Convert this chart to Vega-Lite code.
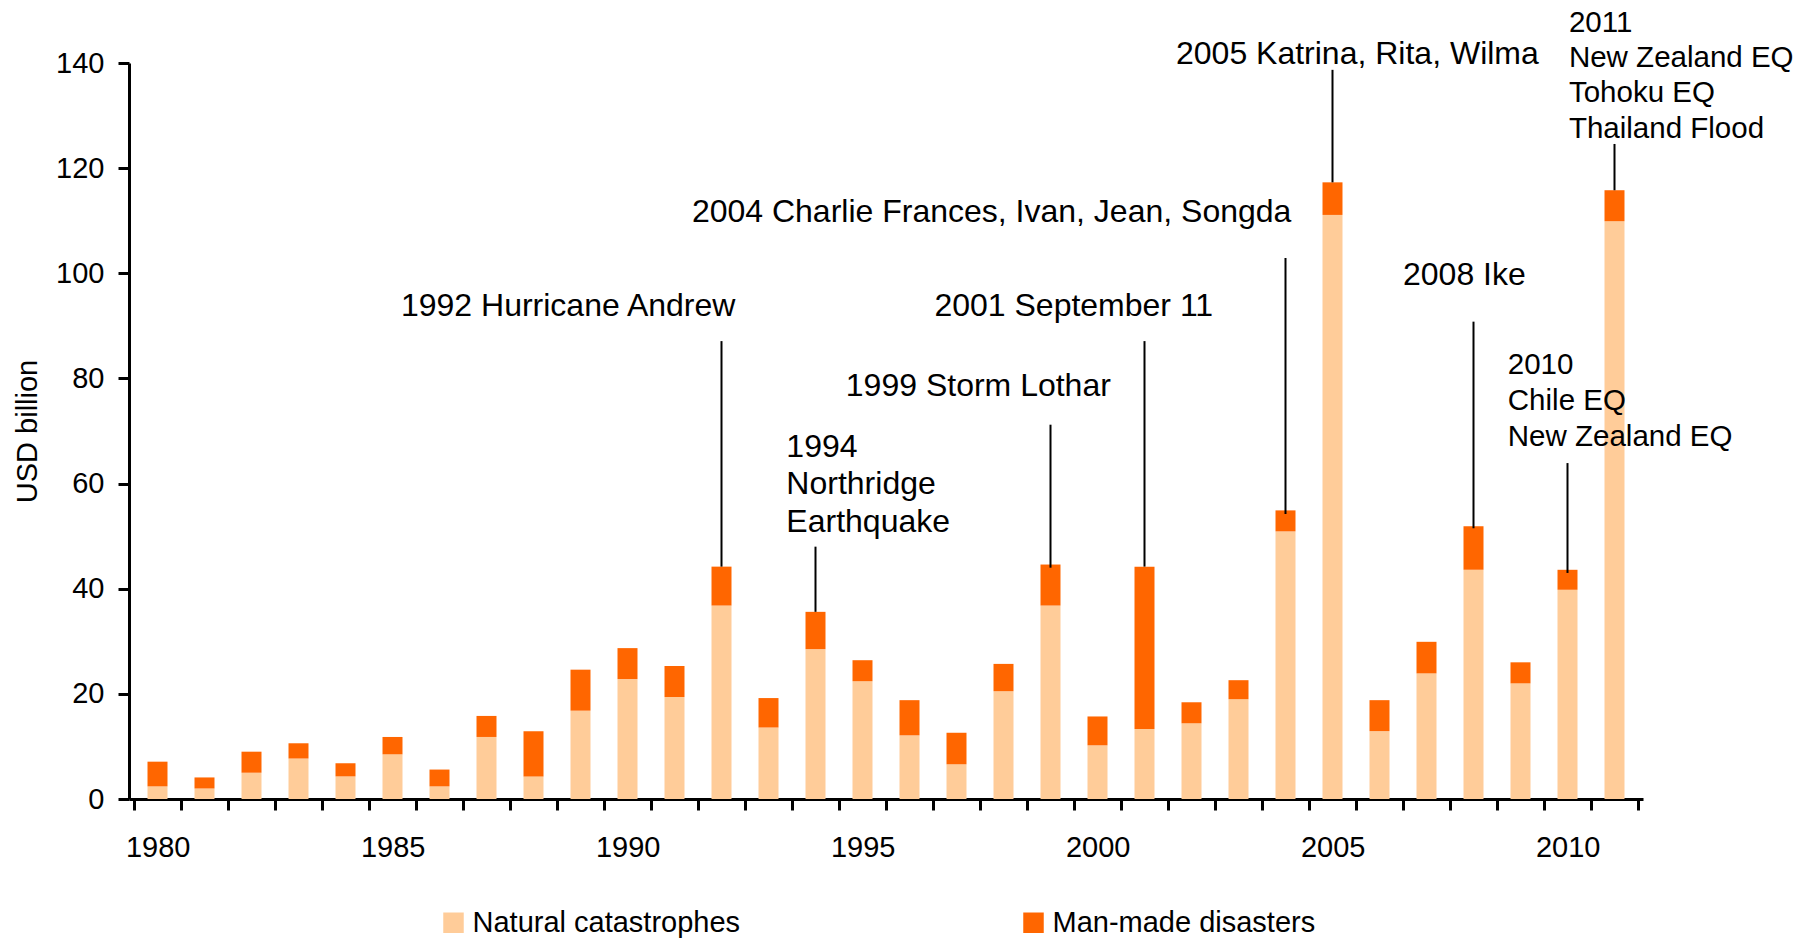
{
  "$schema": "https://vega.github.io/schema/vega-lite/v6.json",
  "width": 1514,
  "height": 736,
  "autosize": {"type": "none"},
  "padding": {"left": 129, "top": 63, "right": 157, "bottom": 139},
  "background": "white",
  "config": {
    "view": {"stroke": null},
    "font": "Liberation Sans"
  },
  "datasets": {
    "bars": [
      {"year": 1980, "Natural catastrophes": 2.4, "Man-made disasters": 4.7},
      {"year": 1981, "Natural catastrophes": 2.0, "Man-made disasters": 2.1},
      {"year": 1982, "Natural catastrophes": 5.0, "Man-made disasters": 4.0},
      {"year": 1983, "Natural catastrophes": 7.7, "Man-made disasters": 2.9},
      {"year": 1984, "Natural catastrophes": 4.3, "Man-made disasters": 2.5},
      {"year": 1985, "Natural catastrophes": 8.5, "Man-made disasters": 3.3},
      {"year": 1986, "Natural catastrophes": 2.4, "Man-made disasters": 3.2},
      {"year": 1987, "Natural catastrophes": 11.8, "Man-made disasters": 4.0},
      {"year": 1988, "Natural catastrophes": 4.3, "Man-made disasters": 8.6},
      {"year": 1989, "Natural catastrophes": 16.8, "Man-made disasters": 7.8},
      {"year": 1990, "Natural catastrophes": 22.8, "Man-made disasters": 5.9},
      {"year": 1991, "Natural catastrophes": 19.4, "Man-made disasters": 5.9},
      {"year": 1992, "Natural catastrophes": 36.8, "Man-made disasters": 7.4},
      {"year": 1993, "Natural catastrophes": 13.6, "Man-made disasters": 5.6},
      {"year": 1994, "Natural catastrophes": 28.5, "Man-made disasters": 7.1},
      {"year": 1995, "Natural catastrophes": 22.4, "Man-made disasters": 4.0},
      {"year": 1996, "Natural catastrophes": 12.1, "Man-made disasters": 6.7},
      {"year": 1997, "Natural catastrophes": 6.6, "Man-made disasters": 6.0},
      {"year": 1998, "Natural catastrophes": 20.5, "Man-made disasters": 5.2},
      {"year": 1999, "Natural catastrophes": 36.8, "Man-made disasters": 7.8},
      {"year": 2000, "Natural catastrophes": 10.2, "Man-made disasters": 5.5},
      {"year": 2001, "Natural catastrophes": 13.3, "Man-made disasters": 30.9},
      {"year": 2002, "Natural catastrophes": 14.4, "Man-made disasters": 4.0},
      {"year": 2003, "Natural catastrophes": 19.0, "Man-made disasters": 3.6},
      {"year": 2004, "Natural catastrophes": 50.9, "Man-made disasters": 4.0},
      {"year": 2005, "Natural catastrophes": 111.1, "Man-made disasters": 6.2},
      {"year": 2006, "Natural catastrophes": 12.9, "Man-made disasters": 5.9},
      {"year": 2007, "Natural catastrophes": 23.9, "Man-made disasters": 6.0},
      {"year": 2008, "Natural catastrophes": 43.6, "Man-made disasters": 8.3},
      {"year": 2009, "Natural catastrophes": 22.0, "Man-made disasters": 4.0},
      {"year": 2010, "Natural catastrophes": 39.8, "Man-made disasters": 3.8},
      {"year": 2011, "Natural catastrophes": 109.9, "Man-made disasters": 5.9}
    ],
    "leaders": [
      {"year": 1992, "value": 87.1, "bottom": 44.2},
      {"year": 1994, "value": 48.0, "bottom": 35.6},
      {"year": 1999, "value": 71.2, "bottom": 44.0},
      {"year": 2001, "value": 87.1, "bottom": 44.2},
      {"year": 2004, "value": 102.9, "bottom": 54.2},
      {"year": 2005, "value": 138.7, "bottom": 117.3},
      {"year": 2008, "value": 90.8, "bottom": 51.5},
      {"year": 2010, "value": 63.9, "bottom": 43.0},
      {"year": 2011, "value": 124.6, "bottom": 115.8}
    ],
    "notes": [
      {"year": 1985.18, "value": 91.9, "label": "1992 Hurricane Andrew"},
      {"year": 1993.38, "value": 65.1, "label": "1994"},
      {"year": 1993.38, "value": 58.0, "label": "Northridge"},
      {"year": 1993.38, "value": 50.7, "label": "Earthquake"},
      {"year": 1994.645, "value": 76.75, "label": "1999 Storm Lothar"},
      {"year": 1996.53, "value": 91.9, "label": "2001 September 11"},
      {"year": 1991.37, "value": 109.7, "label": "2004 Charlie Frances, Ivan, Jean, Songda"},
      {"year": 2001.67, "value": 139.8, "label": "2005 Katrina, Rita, Wilma"},
      {"year": 2006.5, "value": 97.85, "label": "2008 Ike"},
      {"year": 2008.73, "value": 80.8, "label": "2010"},
      {"year": 2008.73, "value": 73.9, "label": "Chile EQ"},
      {"year": 2008.73, "value": 67.1, "label": "New Zealand EQ"},
      {"year": 2010.03, "value": 145.9, "label": "2011"},
      {"year": 2010.03, "value": 139.2, "label": "New Zealand EQ"},
      {"year": 2010.03, "value": 132.5, "label": "Tohoku EQ"},
      {"year": 2010.03, "value": 125.8, "label": "Thailand Flood"}
    ]
  },
  "layer": [
    {
      "data": {"name": "bars"},
      "transform": [
        {"fold": ["Natural catastrophes", "Man-made disasters"], "as": ["type", "value"]}
      ],
      "mark": {"type": "bar", "width": 20},
      "encoding": {
        "x": {
          "field": "year",
          "type": "quantitative",
          "scale": {"domain": [1979.5, 2011.5], "nice": false, "zero": false},
          "axis": {
            "title": null,
            "values": [1979.5, 1980.5, 1981.5, 1982.5, 1983.5, 1984.5, 1985.5, 1986.5, 1987.5, 1988.5, 1989.5, 1990.5, 1991.5, 1992.5, 1993.5, 1994.5, 1995.5, 1996.5, 1997.5, 1998.5, 1999.5, 2000.5, 2001.5, 2002.5, 2003.5, 2004.5, 2005.5, 2006.5, 2007.5, 2008.5, 2009.5, 2010.5, 2011.5],
            "labelExpr": "datum.value % 5 == 4.5 ? '' + (datum.value + 0.5) : ''",
            "labelOffset": 23.66,
            "labelOverlap": false,
            "labelFlush": false,
            "labelBound": false,
            "grid": false,
            "tickSize": 11,
            "tickWidth": 3,
            "tickColor": "black",
            "domainColor": "black",
            "domainWidth": 3,
            "labelFont": "Liberation Sans",
            "labelFontSize": 29,
            "labelColor": "black",
            "labelPadding": 23
          }
        },
        "y": {
          "field": "value",
          "type": "quantitative",
          "stack": "zero",
          "scale": {"domain": [0, 140], "nice": false},
          "axis": {
            "title": "USD billion",
            "values": [0, 20, 40, 60, 80, 100, 120, 140],
            "grid": false,
            "tickSize": 11,
            "tickWidth": 3,
            "tickColor": "black",
            "domainColor": "black",
            "domainWidth": 3,
            "labelFont": "Liberation Sans",
            "labelFontSize": 29,
            "labelColor": "black",
            "labelPadding": 14,
            "titleFont": "Liberation Sans",
            "titleFontSize": 29,
            "titleFontWeight": "normal",
            "titleColor": "black",
            "titleAngle": -90,
            "titleAlign": "center",
            "titleBaseline": "alphabetic",
            "titleX": -93,
            "titleY": 368
          }
        },
        "color": {
          "field": "type",
          "type": "nominal",
          "scale": {"domain": ["Natural catastrophes", "Man-made disasters"], "range": ["#FFCC99", "#FF6600"]},
          "legend": {
            "title": null,
            "orient": "none",
            "direction": "horizontal",
            "legendX": 310,
            "legendY": 845,
            "padding": 0,
            "symbolType": "square",
            "symbolSize": 420,
            "symbolStrokeWidth": 0,
            "symbolOpacity": 1,
            "labelFont": "Liberation Sans",
            "labelFontSize": 29,
            "labelColor": "black",
            "labelOffset": 4.5,
            "labelLimit": 0,
            "columnPadding": 278
          }
        },
        "order": {"field": "type", "sort": "descending"}
      }
    },
    {
      "data": {"name": "leaders"},
      "mark": {"type": "rule", "color": "black", "strokeWidth": 2},
      "encoding": {
        "x": {"field": "year", "type": "quantitative"},
        "y": {"field": "value", "type": "quantitative", "stack": null},
        "y2": {"field": "bottom"}
      }
    },
    {
      "data": {"name": "notes"},
      "transform": [{"filter": "datum.year < 2008"}],
      "mark": {"type": "text", "align": "left", "baseline": "alphabetic", "font": "Liberation Sans", "fontSize": 32, "color": "black"},
      "encoding": {
        "x": {"field": "year", "type": "quantitative"},
        "y": {"field": "value", "type": "quantitative", "stack": null},
        "text": {"field": "label"}
      }
    },
    {
      "data": {"name": "notes"},
      "transform": [{"filter": "datum.year > 2008"}],
      "mark": {"type": "text", "align": "left", "baseline": "alphabetic", "font": "Liberation Sans", "fontSize": 29.5, "color": "black"},
      "encoding": {
        "x": {"field": "year", "type": "quantitative"},
        "y": {"field": "value", "type": "quantitative", "stack": null},
        "text": {"field": "label"}
      }
    }
  ]
}
